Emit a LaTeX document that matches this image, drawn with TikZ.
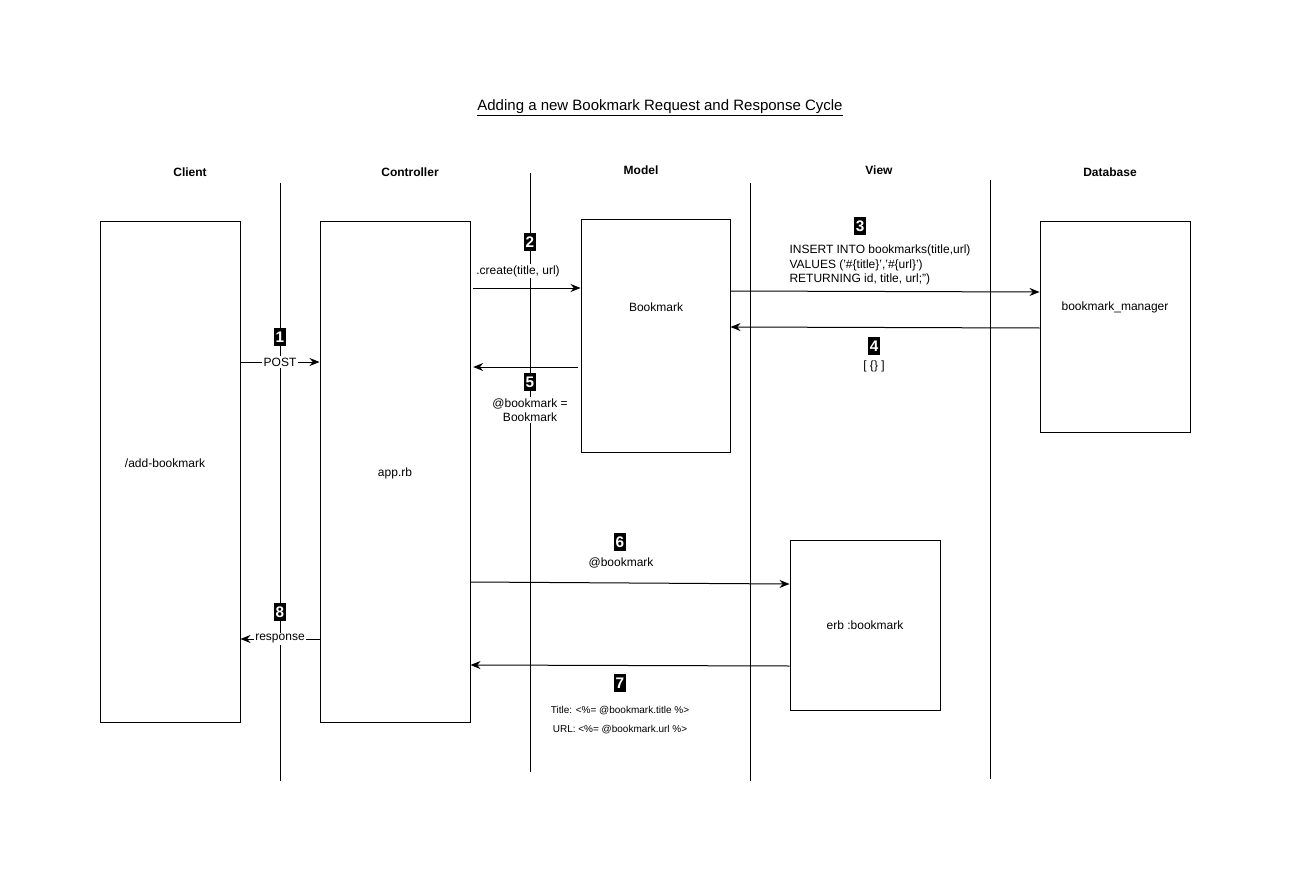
\documentclass[tikz,border=0pt]{standalone}
\usepackage{fontspec}
\setmainfont{Liberation Sans}
\usetikzlibrary{arrows.meta}
\tikzset{
  box/.style={draw=black, line width=0.75pt, fill=white, inner sep=0pt},
  lifeline/.style={draw=black, line width=0.75pt},
  arr/.style={draw=black, line width=0.75pt, -{Stealth[length=7.5pt,width=6pt]}},
  txt/.style={font=\fontsize{9}{10.5}\selectfont, inner sep=1pt, align=center},
  lbl/.style={txt, fill=white},
  small/.style={font=\fontsize{7.5}{9}\selectfont, inner sep=1pt},
  head/.style={font=\fontsize{9}{10.5}\selectfont\bfseries},
  badge/.style={fill=black, text=white, font=\fontsize{11.5}{11.5}\selectfont\bfseries, inner xsep=1pt, inner ysep=0pt, minimum height=13.5pt, minimum width=7.5pt}
}
\begin{document}
\begin{tikzpicture}[x=0.75pt,y=-0.75pt]
\useasboundingbox (0,0) rectangle (1291,884);
% title
\node[font=\fontsize{11.25}{13}\selectfont] (title) at (660,108) {\underline{Adding a new Bookmark Request and Response Cycle}};
% headers
\node[head] (hclient) at (190,172) {Client};
\node[head] (hctrl) at (410,172) {Controller};
\node[head] (hmodel) at (641,170) {Model};
\node[head] (hview) at (879,170) {View};
\node[head] (hdb) at (1110,172) {Database};
% lifelines
\coordinate (l1t) at (280,183); \coordinate (l1b) at (280,781);
\coordinate (l2t) at (530,173); \coordinate (l2b) at (530,772);
\coordinate (l3t) at (750,183); \coordinate (l3b) at (750,781);
\coordinate (l4t) at (990,180); \coordinate (l4b) at (990,779);
\draw[lifeline] (l1t) -- (l1b);
\draw[lifeline] (l2t) -- (l2b);
\draw[lifeline] (l3t) -- (l3b);
\draw[lifeline] (l4t) -- (l4b);
% boxes
\node[box, minimum width=105pt, minimum height=375pt] (client) at (170,472) {};
\node[txt] (clienttxt) at (165,463) {/add-bookmark};
\node[box, minimum width=112.5pt, minimum height=375pt] (ctrl) at (395,472) {};
\node[txt] (ctrltxt) at (395,473) {app.rb};
\node[box, minimum width=111.75pt, minimum height=174pt] (model) at (655.5,336) {};
\node[txt] (modeltxt) at (656,307) {Bookmark};
\node[box, minimum width=112.5pt, minimum height=157.5pt] (db) at (1115,327) {};
\node[txt] (dbtxt) at (1115,307) {bookmark\_manager};
\node[box, minimum width=112.5pt, minimum height=127.5pt] (view) at (865,625) {};
\node[txt] (viewtxt) at (865,625) {erb :bookmark};
% 1 POST
\draw[arr] (client.east |- 0,362) -- node[lbl] (post) {POST} (ctrl.west |- 0,362);
\node[badge] (b1) at (280,337) {1};
% 2 create
\draw[arr] ([xshift=2pt]ctrl.east |- 0,288) -- (model.west |- 0,288);
\node[badge] (b2) at (530,242) {2};
\node[lbl] (create) at (518,271) {.create(title, url)};
% 3 insert
\draw[arr] (model.east |- 0,291) -- (db.west |- 0,292);
\node[badge] (b3) at (860,226) {3};
\node[txt, align=left, font=\fontsize{9}{11}\selectfont] (sql) at (880,265) {INSERT INTO bookmarks(title,url)\\VALUES ('\#\{title\}','\#\{url\}')\\RETURNING id, title, url;")};
% 4 result
\draw[arr] (db.west |- 0,328) -- (model.east |- 0,327);
\node[badge] (b4) at (874,346) {4};
\node[txt] (res) at (874,366) {[ \{\} ]};
% 5 return
\draw[arr] ([xshift=-2pt]model.west |- 0,367) -- ([xshift=2pt]ctrl.east |- 0,367);
\node[badge] (b5) at (530,382) {5};
\node[lbl] (assign) at (530,410) {@bookmark =\\Bookmark};
% 6 to view
\draw[arr] (ctrl.east |- 0,582) -- (view.west |- 0,584);
\node[badge] (b6) at (620,542) {6};
\node[txt] (bm) at (621,563) {@bookmark};
% 7 back
\draw[arr] (view.west |- 0,666) -- (ctrl.east |- 0,665);
\node[badge] (b7) at (620,683) {7};
\node[small] (t1) at (620,711) {Title: <\%= @bookmark.title \%>};
\node[small] (t2) at (620,730) {URL: <\%= @bookmark.url \%>};
% 8 response
\draw[arr] (ctrl.west |- 0,639) -- node[lbl] (resp) {response} (client.east |- 0,639);
\node[badge] (b8) at (280,612) {8};
\end{tikzpicture}
\end{document}
